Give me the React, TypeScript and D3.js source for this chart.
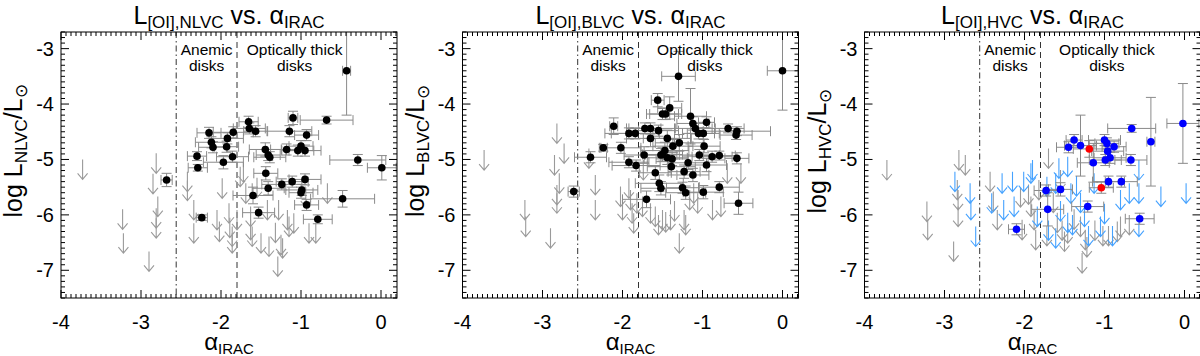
import { useEffect, useRef } from "react";
import * as d3 from "d3";

const width = 1200;
const height = 356;
const panelLeft = [61, 462.5, 864.5];
const panelW = 336;
const plotTop = 32;
const plotBottom = 298;
const font = "'Liberation Sans', Arial, Helvetica, sans-serif";

const xTicks = [-4, -3, -2, -1, 0];
const yTicks = [-3, -4, -5, -6, -7];
const xTickLabels = ["-4", "-3", "-2", "-1", "0"];
const yTickLabels = ["-3", "-4", "-5", "-6", "-7"];
const components = ["NLVC", "BLVC", "HVC"];
const thickLabelX = [-1.08, -0.97, -0.97];
const anemicEdge = -2.56;
const thickEdge = -1.8;

// NLVC detections: alpha, log L, x error, y error
const nlvcX = [-0.43, -0.68, -1.1, -1.145, -0.93, -1.655, -1.646, -1.567, -2.15, -1.847, -1.92, -2.12, -2.1, -1.93, -1.856, -1.97, -2.3, -2.29, -2.68, -2.24, -1.446, -1.41, -1.39, -1.18, -1.04, -1.0, -0.95, -0.29, 0.01, -1.44, -1.24, -1.11, -1.41, -0.95, -0.99, -1.0, -1.6, -0.48, -0.93, -1.53, -0.79];
const nlvcY = [-3.4, -4.29, -4.25, -4.49, -4.56, -4.32, -4.44, -4.49, -4.52, -4.51, -4.62, -4.69, -4.78, -4.77, -4.95, -5.05, -4.94, -5.15, -5.37, -6.05, -4.82, -4.92, -4.96, -4.82, -4.84, -4.76, -4.84, -5.01, -5.15, -5.25, -5.45, -5.4, -5.52, -5.36, -5.55, -5.6, -5.65, -5.71, -5.82, -5.96, -6.08];
const nlvcXe = [0.05, 0.33, 0.06, 0.28, 0.15, 0.12, 0.2, 0.15, 0.15, 0.25, 0.2, 0.2, 0.18, 0.15, 0.2, 0.25, 0.12, 0.12, 0.07, 0.07, 0.2, 0.15, 0.2, 0.2, 0.2, 0.15, 0.2, 0.35, 0.18, 0.15, 0.25, 0.2, 0.2, 0.2, 0.2, 0.15, 0.25, 0.4, 0.15, 0.2, 0.18];
const nlvcYe = [0.8, 0.07, 0.12, 0.1, 0.1, 0.1, 0.1, 0.1, 0.1, 0.1, 0.1, 0.1, 0.1, 0.1, 0.1, 0.12, 0.08, 0.06, 0.12, 0.05, 0.12, 0.1, 0.1, 0.1, 0.1, 0.1, 0.1, 0.1, 0.22, 0.12, 0.1, 0.1, 0.12, 0.1, 0.1, 0.1, 0.15, 0.15, 0.1, 0.1, 0.08];
// NLVC upper limits
const nlvcLimX = [-3.73, -3.23, -3.22, -2.9, -2.81, -2.85, -2.79, -2.81, -2.81, -2.42, -2.42, -2.34, -2.34, -1.985, -2.05, -2.02, -1.9, -1.89, -1.86, -1.86, -1.8, -1.76, -1.72, -1.63, -1.61, -1.55, -1.5, -1.42, -1.4, -1.32, -1.29, -1.25, -1.23, -1.17, -1.15, -1.09, -0.9, -0.815, -1.28, -0.94, -0.67, -1.69, -1.63];
const nlvcLimY = [-5.0, -5.9, -6.33, -6.66, -4.89, -5.26, -5.67, -5.88, -6.06, -5.22, -5.38, -5.73, -6.15, -5.34, -5.91, -6.12, -5.79, -6.05, -6.21, -6.33, -5.91, -5.13, -5.05, -6.09, -6.21, -5.33, -6.33, -5.73, -6.39, -6.14, -6.75, -6.36, -6.42, -5.91, -6.03, -5.97, -6.15, -6.15, -5.73, -5.5, -5.43, -5.43, -5.85];

// BLVC detections
const blvcX = [0.0, -1.3, -1.56, -1.41, -1.5, -1.46, -1.15, -1.12, -1.09, -0.95, -1.05, -0.99, -2.11, -1.92, -1.84, -1.72, -1.65, -1.55, -1.65, -0.68, -0.57, -0.58, -1.44, -1.29, -1.37, -0.98, -2.02, -2.24, -2.4, -1.47, -1.5, -1.73, -1.52, -1.44, -1.38, -1.04, -0.88, -0.79, -0.57, -1.92, -1.83, -1.39, -1.18, -0.95, -1.23, -1.12, -1.59, -1.54, -1.52, -1.25, -1.21, -0.99, -0.79, -2.61, -1.7, -0.55];
const blvcY = [-3.4, -3.5, -3.93, -4.07, -4.18, -4.18, -4.22, -4.35, -4.44, -4.33, -4.53, -4.53, -4.4, -4.53, -4.53, -4.44, -4.44, -4.48, -4.62, -4.44, -4.49, -4.56, -4.62, -4.7, -4.76, -4.76, -4.79, -4.79, -4.96, -4.84, -4.91, -4.92, -4.92, -4.97, -4.99, -4.92, -4.95, -4.93, -4.98, -5.05, -5.11, -5.13, -5.06, -5.1, -5.22, -5.28, -5.24, -5.43, -5.52, -5.51, -5.6, -5.59, -5.5, -5.58, -5.72, -5.79];
const blvcXe = [0.19, 0.21, 0.08, 0.15, 0.2, 0.2, 0.2, 0.2, 0.25, 0.1, 0.2, 0.2, 0.05, 0.3, 0.3, 0.2, 0.3, 0.25, 0.3, 0.2, 0.42, 0.2, 0.3, 0.3, 0.25, 0.2, 0.25, 0.05, 0.2, 0.3, 0.25, 0.25, 0.2, 0.25, 0.2, 0.25, 0.25, 0.2, 0.15, 0.25, 0.3, 0.3, 0.25, 0.25, 0.2, 0.2, 0.2, 0.3, 0.25, 0.2, 0.25, 0.25, 0.25, 0.07, 0.3, 0.18];
const blvcYe = [0.71, 0.45, 0.12, 0.2, 0.1, 0.1, 0.5, 0.12, 0.1, 0.1, 0.1, 0.1, 0.15, 0.1, 0.1, 0.1, 0.1, 0.1, 0.15, 0.08, 0.08, 0.08, 0.15, 0.15, 0.12, 0.12, 0.1, 0.06, 0.1, 0.15, 0.12, 0.15, 0.12, 0.12, 0.12, 0.1, 0.1, 0.08, 0.1, 0.1, 0.1, 0.15, 0.12, 0.12, 0.12, 0.12, 0.12, 0.15, 0.12, 0.1, 0.12, 0.12, 0.1, 0.1, 0.15, 0.2];
// BLVC upper limits
const blvcLimX = [-3.73, -3.22, -3.21, -2.9, -2.82, -2.73, -2.85, -2.79, -2.82, -2.82, -2.42, -2.34, -2.34, -2.025, -2.0, -1.92, -1.9, -1.88, -1.86, -1.82, -1.75, -1.65, -1.59, -1.5, -1.46, -1.4, -1.29, -1.23, -1.21, -1.06, -0.875, -0.77, -0.69, -0.52, -1.74, -1.16, -1.11, -1.35, -1.55];
const blvcLimY = [-4.83, -5.73, -6.03, -6.24, -4.35, -4.71, -4.92, -5.25, -5.46, -5.61, -4.8, -5.28, -5.73, -5.49, -5.73, -5.34, -5.55, -5.79, -5.97, -5.61, -5.67, -5.79, -5.85, -5.91, -5.95, -5.91, -6.33, -5.91, -6.0, -5.61, -5.73, -5.67, -5.07, -5.07, -5.01, -5.55, -5.43, -5.75, -6.0];

// HVC detections (blue) and the two red ones
const hvcX = [-0.02, -0.66, -0.42, -1.38, -1.45, -1.3, -1.0, -0.97, -0.88, -0.96, -0.93, -0.99, -0.67, -1.14, -0.95, -0.79, -1.73, -1.55, -1.21, -1.71, -0.56, -2.1];
const hvcY = [-4.35, -4.44, -4.68, -4.65, -4.78, -4.75, -4.65, -4.71, -4.77, -4.85, -4.97, -5.01, -5.01, -5.06, -5.4, -5.4, -5.56, -5.54, -5.85, -5.9, -6.07, -6.26];
const hvcXe = [0.2, 0.3, 0.05, 0.1, 0.15, 0.2, 0.2, 0.15, 0.15, 0.2, 0.2, 0.2, 0.2, 0.2, 0.2, 0.2, 0.15, 0.15, 0.2, 0.2, 0.18, 0.1];
const hvcYe = [0.72, 0.07, 0.8, 0.1, 0.1, 0.55, 0.1, 0.1, 0.1, 0.1, 0.1, 0.1, 0.1, 0.35, 0.1, 0.1, 0.1, 0.12, 0.1, 0.3, 0.1, 0.1];
const hvcRedX = [-1.19, -1.04];
const hvcRedY = [-4.81, -5.51];
const hvcRedXe = [0.2, 0.15];
const hvcRedYe = [0.15, 0.1];
// HVC upper limits, gray and blue
const hvcLimX = [-3.72, -3.22, -3.21, -2.886, -2.82, -2.74, -2.84, -2.83, -2.83, -2.43, -2.39, -2.34, -2.03, -1.92, -1.88, -1.86, -1.82, -1.7, -1.59, -1.53, -1.46, -1.38, -1.3, -1.28, -1.24, -1.22, -0.8, -0.84, -0.69, -1.55, -1.64, -1.12, -1.02, -0.95, -1.95, -2.05, -1.72, -1.5];
const hvcLimY = [-5.01, -5.76, -6.09, -6.48, -4.83, -4.92, -5.37, -5.55, -5.85, -5.22, -5.58, -5.91, -6.09, -5.67, -5.91, -6.27, -5.37, -4.8, -5.96, -6.1, -6.15, -5.9, -6.03, -6.69, -6.27, -6.4, -6.03, -6.12, -6.0, -5.19, -5.6, -6.1, -6.2, -6.2, -5.45, -5.5, -6.2, -6.3];
const hvcBlueLimX = [-2.87, -2.68, -2.67, -2.61, -2.41, -2.28, -2.26, -2.15, -2.13, -2.01, -1.92, -1.9, -1.84, -1.72, -1.57, -1.46, -1.61, -1.42, -1.46, -1.13, -1.05, 0.02, -0.295, -0.57, -0.57, -0.69, -0.8, -0.57, -1.61, -1.35, -1.3, -1.2, -0.9, -1.7, -1.55, -1.25, -1.0, -1.4];
const hvcBlueLimY = [-5.22, -5.43, -5.73, -6.21, -5.61, -5.25, -5.73, -5.22, -5.67, -5.22, -5.07, -5.01, -5.85, -5.31, -4.98, -4.95, -6.24, -5.43, -5.96, -5.25, -6.03, -5.43, -5.49, -5.01, -5.43, -5.43, -5.55, -6.03, -5.25, -5.3, -5.6, -6.2, -6.2, -6.1, -5.75, -5.85, -5.8, -6.0];

const zip = (xs, ys, xe, ye) => xs.map((x, i) => ({ x, y: ys[i], xe: xe ? xe[i] : 0, ye: ye ? ye[i] : 0 }));

const panels = [
  { det: zip(nlvcX, nlvcY, nlvcXe, nlvcYe), red: [], lim: zip(nlvcLimX, nlvcLimY), blueLim: [], dotColor: "#000" },
  { det: zip(blvcX, blvcY, blvcXe, blvcYe), red: [], lim: zip(blvcLimX, blvcLimY), blueLim: [], dotColor: "#000" },
  { det: zip(hvcX, hvcY, hvcXe, hvcYe), red: zip(hvcRedX, hvcRedY, hvcRedXe, hvcRedYe), lim: zip(hvcLimX, hvcLimY), blueLim: zip(hvcBlueLimX, hvcBlueLimY), dotColor: "#0000ff" },
];

const App = () => {
  const ref = useRef(null);

  useEffect(() => {
    const svg = d3.select(ref.current);
    svg.selectAll("*").remove();

    const y = d3.scaleLinear().domain([-7.5, -2.7]).range([plotBottom, plotTop]);

    panels.forEach((p, k) => {
      const x0 = panelLeft[k];
      const x = d3.scaleLinear().domain([-4, 0.2]).range([x0, x0 + panelW]);
      const g = svg.append("g");
      const clipId = `clip${k}`;
      svg.append("clipPath").attr("id", clipId)
        .append("rect").attr("x", x0).attr("y", plotTop).attr("width", panelW).attr("height", plotBottom - plotTop);
      const inner = g.append("g").attr("clip-path", `url(#${clipId})`);

      // region separators
      inner.append("line").attr("x1", x(anemicEdge)).attr("x2", x(anemicEdge)).attr("y1", plotTop).attr("y2", plotBottom)
        .attr("stroke", "#333").attr("stroke-dasharray", "6,3,1.5,3");
      inner.append("line").attr("x1", x(thickEdge)).attr("x2", x(thickEdge)).attr("y1", plotTop).attr("y2", plotBottom)
        .attr("stroke", "#333").attr("stroke-dasharray", "6,4");

      const arrow = (d) => {
        const ax = x(d.x), ay = y(d.y), end = ay + 20;
        return `M${ax},${ay}V${end}M${ax - 5},${end - 6}L${ax},${end}L${ax + 5},${end - 6}`;
      };
      inner.selectAll(".lim").data(p.lim).enter().append("path").attr("class", "lim")
        .attr("d", arrow).attr("fill", "none").attr("stroke", "#9a9a9a").attr("stroke-width", 1.1);
      inner.selectAll(".blim").data(p.blueLim).enter().append("path").attr("class", "blim")
        .attr("d", arrow).attr("fill", "none").attr("stroke", "#45a2ff").attr("stroke-width", 1.1);

      const errbar = (d) => {
        const cx = x(d.x), cy = y(d.y);
        const xl = x(d.x - d.xe), xr = x(d.x + d.xe);
        const yt = y(d.y + d.ye), yb = y(d.y - d.ye);
        return `M${xl},${cy}H${xr}M${xl},${cy - 5}V${cy + 5}M${xr},${cy - 5}V${cy + 5}` +
          `M${cx},${yt}V${yb}M${cx - 5},${yt}H${cx + 5}M${cx - 5},${yb}H${cx + 5}`;
      };
      const allDet = p.det.concat(p.red);
      inner.selectAll(".err").data(allDet).enter().append("path").attr("class", "err")
        .attr("d", errbar).attr("fill", "none").attr("stroke", "#8a8a8a").attr("stroke-width", 1);

      inner.selectAll(".dot").data(p.det).enter().append("circle").attr("class", "dot")
        .attr("cx", (d) => x(d.x)).attr("cy", (d) => y(d.y)).attr("r", 3.8).attr("fill", p.dotColor);
      inner.selectAll(".red").data(p.red).enter().append("circle").attr("class", "red")
        .attr("cx", (d) => x(d.x)).attr("cy", (d) => y(d.y)).attr("r", 3.8).attr("fill", "#ff0000");

      // frame and ticks
      g.append("rect").attr("x", x0).attr("y", plotTop).attr("width", panelW).attr("height", plotBottom - plotTop)
        .attr("fill", "none").attr("stroke", "#000").attr("stroke-width", 1);
      const xMinor = d3.range(-4, 0.2001, 1 / 16);
      const yMinor = d3.range(-7.5, -2.6999, 0.1);
      const ticks = g.append("g").attr("stroke", "#000").attr("stroke-width", 1);
      xMinor.forEach((v) => {
        const major = Math.abs(v - Math.round(v)) < 1e-6;
        const len = major ? 8 : 4;
        ticks.append("line").attr("x1", x(v)).attr("x2", x(v)).attr("y1", plotBottom).attr("y2", plotBottom - len);
        ticks.append("line").attr("x1", x(v)).attr("x2", x(v)).attr("y1", plotTop).attr("y2", plotTop + len);
      });
      yMinor.forEach((v) => {
        const major = Math.abs(v - Math.round(v)) < 1e-6;
        const len = major ? 8 : 4;
        ticks.append("line").attr("y1", y(v)).attr("y2", y(v)).attr("x1", x0).attr("x2", x0 + len);
        ticks.append("line").attr("y1", y(v)).attr("y2", y(v)).attr("x1", x0 + panelW).attr("x2", x0 + panelW - len);
      });

      const txt = g.append("g").attr("font-family", font).attr("fill", "#000");
      xTicks.forEach((v, i) => {
        txt.append("text").attr("x", x(v)).attr("y", 329).attr("text-anchor", "middle")
          .attr("font-size", 20).text(xTickLabels[i]);
      });
      yTicks.forEach((v, i) => {
        txt.append("text").attr("x", x0 - 7).attr("y", y(v) + 7).attr("text-anchor", "end")
          .attr("font-size", 20).text(yTickLabels[i]);
      });

      // region labels
      const mid = (anemicEdge + thickEdge) / 2;
      txt.append("text").attr("x", x(mid)).attr("y", 55).attr("text-anchor", "middle").attr("font-size", 15.5).text("Anemic");
      txt.append("text").attr("x", x(mid)).attr("y", 71).attr("text-anchor", "middle").attr("font-size", 15.5).text("disks");
      txt.append("text").attr("x", x(thickLabelX[k])).attr("y", 55).attr("text-anchor", "middle").attr("font-size", 15.5).text("Optically thick");
      txt.append("text").attr("x", x(thickLabelX[k])).attr("y", 71).attr("text-anchor", "middle").attr("font-size", 15.5).text("disks");

      // title
      const cx = x0 + panelW / 2;
      const title = txt.append("text").attr("x", cx).attr("y", 24).attr("text-anchor", "middle").attr("font-size", 25);
      title.append("tspan").text("L");
      title.append("tspan").attr("font-size", 17).attr("dy", 4).text(`[OI],${components[k]}`);
      title.append("tspan").attr("dy", -4).text(" vs. α");
      title.append("tspan").attr("font-size", 17).attr("dy", 4).text("IRAC");

      // x label
      const xl = txt.append("text").attr("x", cx).attr("y", 350).attr("text-anchor", "middle").attr("font-size", 24);
      xl.append("tspan").text("α");
      xl.append("tspan").attr("font-size", 15).attr("dy", 4).text("IRAC");

      // y label
      const yl = txt.append("text").attr("transform", `translate(${x0 - 39},${(plotTop + plotBottom) / 2 - 14}) rotate(-90)`)
        .attr("text-anchor", "middle").attr("font-size", 25);
      yl.append("tspan").text("log L");
      yl.append("tspan").attr("font-size", 17).attr("dy", 5).text(components[k]);
      yl.append("tspan").attr("dy", -5).text("/L");
      yl.append("tspan").attr("font-size", 17).attr("dy", 5).text("⊙");
    });
  }, []);

  return (
    <svg ref={ref} width={width} height={height}
      style={{ position: "absolute", left: 0, top: 0, background: "#fff" }} />
  );
};

export default App;
